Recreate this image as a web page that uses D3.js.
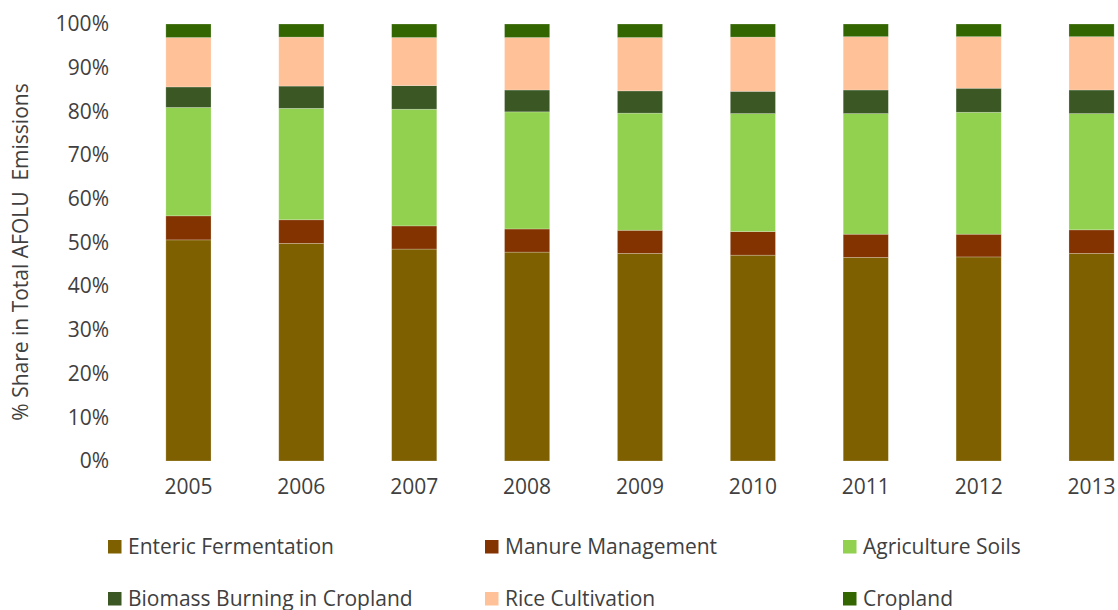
<!DOCTYPE html>
<html>
<head>
<meta charset="utf-8">
<script src="https://d3js.org/d3.v7.min.js"></script>
<style>
  body { margin: 0; background: #fff; }
  text { font-family: "Open Sans", sans-serif; fill: #404040; }
</style>
</head>
<body>
<div id="chart"></div>
<script>
// years on the x axis
var years = ["2005", "2006", "2007", "2008", "2009", "2010", "2011", "2012", "2013"];

// share of each source in total AFOLU emissions (%)
var enteric  = [50.6, 49.8, 48.5, 47.8, 47.5, 47.1, 46.6, 46.7, 47.5];
var manure   = [5.5, 5.4, 5.3, 5.3, 5.3, 5.4, 5.3, 5.2, 5.4];
var soils    = [24.8, 25.5, 26.7, 26.8, 26.8, 27.0, 27.6, 27.9, 26.6];
var biomass  = [4.7, 5.1, 5.4, 5.0, 5.1, 5.1, 5.4, 5.5, 5.4];
var rice     = [11.3, 11.2, 11.0, 12.0, 12.2, 12.4, 12.2, 11.8, 12.2];
var cropland = [3.1, 3.0, 3.1, 3.1, 3.1, 3.0, 2.9, 2.9, 2.9];

var seriesNames = ["Enteric Fermentation", "Manure Management", "Agriculture Soils",
                   "Biomass Burning in Cropland", "Rice Cultivation", "Cropland"];
var seriesValues = [enteric, manure, soils, biomass, rice, cropland];
var colors = ["#7f6000", "#833300", "#92d050", "#3a5724", "#ffc197", "#336600"];

var yTicks = [0, 0.1, 0.2, 0.3, 0.4, 0.5, 0.6, 0.7, 0.8, 0.9, 1];

var width = 1118, height = 610;

// one row per year, for d3.stack
var rows = years.map(function(yr, i) {
  var r = { year: yr };
  seriesNames.forEach(function(s, j) { r[s] = seriesValues[j][i] / 100; });
  return r;
});

var stacked = d3.stack().keys(seriesNames)(rows);

var svg = d3.select("#chart").append("svg")
  .attr("width", width)
  .attr("height", height);

var x = d3.scaleBand()
  .domain(years)
  .range([132, 1148])
  .paddingInner(0.6)
  .paddingOuter(0.3);

var y = d3.scaleLinear()
  .domain([0, 1])
  .range([461, 24]);

// y axis
var yAxis = d3.axisLeft(y)
  .tickValues(yTicks)
  .tickFormat(d3.format(".0%"))
  .tickSize(0)
  .tickPadding(0);

var gy = svg.append("g")
  .attr("transform", "translate(109,0)")
  .call(yAxis);
gy.select(".domain").remove();
gy.selectAll("text")
  .style("font-size", "21px")
  .attr("fill", "#404040");

// x axis
var xAxis = d3.axisBottom(x).tickSize(0).tickPadding(0);
var gx = svg.append("g")
  .attr("transform", "translate(0,479)")
  .call(xAxis);
gx.select(".domain").remove();
gx.selectAll("text")
  .style("font-size", "21px")
  .attr("fill", "#404040");

// bars
svg.append("g").selectAll("g")
  .data(stacked)
  .enter().append("g")
    .attr("fill", function(d, i) { return colors[i]; })
  .selectAll("rect")
  .data(function(d) { return d; })
  .enter().append("rect")
    .attr("x", function(d) { return x(d.data.year); })
    .attr("y", function(d) { return y(d[1]); })
    .attr("width", x.bandwidth())
    .attr("height", function(d) { return y(d[0]) - y(d[1]); })
    .attr("stroke", "#ffffff")
    .attr("stroke-opacity", 0.3)
    .attr("stroke-width", 0.75);

// y axis title
svg.append("text")
  .attr("transform", "translate(28,252) rotate(-90)")
  .attr("text-anchor", "middle")
  .style("font-size", "21px")
  .text("% Share in Total AFOLU\u00a0 Emissions");

// legend
var legendX = [108, 485, 843];
var legendY = [547, 599];
var legend = svg.append("g").selectAll("g")
  .data(seriesNames)
  .enter().append("g")
    .attr("transform", function(d, i) {
      return "translate(" + legendX[i % 3] + "," + legendY[Math.floor(i / 3)] + ")";
    });

legend.append("rect")
  .attr("x", 0)
  .attr("y", -7)
  .attr("width", 13.5)
  .attr("height", 13.5)
  .attr("fill", function(d, i) { return colors[i]; });

legend.append("text")
  .attr("x", 20)
  .attr("y", 0)
  .attr("dy", "0.35em")
  .style("font-size", "21px")
  .text(function(d) { return d; });
</script>
</body>
</html>
